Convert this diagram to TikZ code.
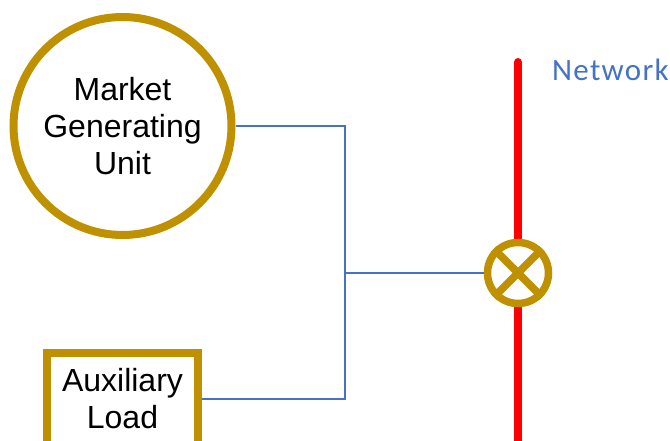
\documentclass[tikz,border=0pt]{standalone}
\usepackage{fontspec}
\setmainfont{Liberation Sans}
\newfontfamily\calib{Carlito}
\definecolor{gold}{HTML}{BF9000}
\definecolor{wireblue}{HTML}{4472C4}
\begin{document}
\begin{tikzpicture}[x=1pt,y=-1pt,
  unit/.style={circle,draw=gold,line width=8pt,fill=white,minimum size=218pt,inner sep=0pt,align=center,
    font=\fontsize{32}{37}\selectfont},
  loadbox/.style={rectangle,draw=gold,line width=8pt,fill=white,minimum width=151pt,minimum height=92pt,inner sep=0pt,align=center,
    font=\fontsize{32}{37}\selectfont},
  breaker/.style={circle,draw=gold,line width=7.5pt,fill=white,minimum size=61pt,inner sep=0pt},
  wire/.style={wireblue,line width=2.2pt},
  bus/.style={red,line width=8pt,line cap=round},
  netlabel/.style={wireblue,anchor=base west,inner sep=0pt,font=\calib\fontsize{31}{37}\selectfont}]
\useasboundingbox (0,0) rectangle (670,441);
\begin{scope}
\clip (0,0) rectangle (670,441);
\coordinate (bustop) at (518,62);
\coordinate (busbot) at (518,470);
\draw[bus] (bustop) -- (busbot);
\node[unit] (mgu) at (122.5,126) {Market\\Generating\\Unit};
\node[loadbox] (aux) at (122.5,399) {Auxiliary\\Load};
\node[breaker] (brk) at (518,273) {};
\draw[gold,line width=7.5pt] (brk.45) -- (brk.225) (brk.135) -- (brk.315);
\coordinate (junc) at (345,273);
\draw[wire] (mgu.east) -| (junc) |- (aux.east);
\draw[wire] (junc) -- (brk.west);
\node[netlabel] (net) at (552,81) {N\kern1.2pt e\kern1.2pt t\kern1.2pt w\kern1.2pt o\kern1.2pt r\kern1.2pt k};
\end{scope}
\end{tikzpicture}
\end{document}
